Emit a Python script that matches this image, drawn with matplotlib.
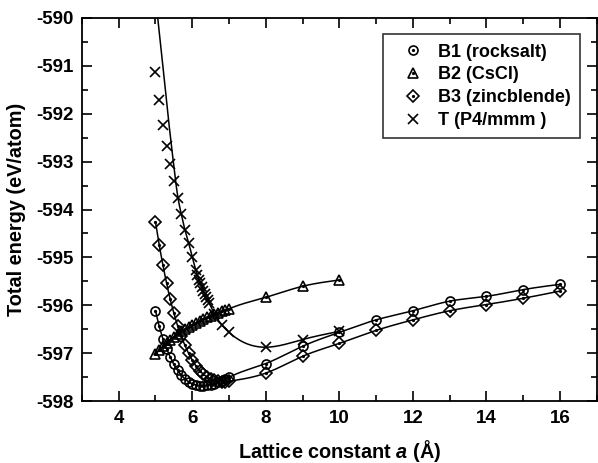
import numpy as np
import matplotlib
matplotlib.use("Agg")
import matplotlib.pyplot as plt
from matplotlib.lines import Line2D
from matplotlib.ticker import MultipleLocator, FormatStrFormatter

plt.rcParams['font.family'] = ['Liberation Sans', 'DejaVu Sans']
plt.rcParams['font.weight'] = 'bold'
plt.rcParams['axes.unicode_minus'] = False
plt.rcParams['mathtext.fontset'] = 'custom'
plt.rcParams['mathtext.it'] = 'Liberation Sans:italic:bold'
plt.rcParams['mathtext.rm'] = 'Liberation Sans:bold'

# donnees (a en Angstrom, E en eV/atome)
a_fin = [5.0, 5.1, 5.2, 5.3, 5.4, 5.5, 5.6, 5.7, 5.8, 5.9, 6.0,
         6.1, 6.2, 6.3, 6.4, 6.5, 6.6, 6.7, 6.8, 6.9, 7.0]

b1_x = a_fin + [8, 9, 10, 11, 12, 13, 14, 15, 16]
b1_y = [-596.11, -596.43, -596.69, -596.90, -597.07, -597.23, -597.35, -597.45,
        -597.53, -597.59, -597.63, -597.66, -597.67, -597.67, -597.66, -597.65,
        -597.63, -597.60, -597.57, -597.54, -597.50,
        -597.21, -596.85, -596.56, -596.30, -596.11, -595.91, -595.81, -595.67, -595.56]

b2_x = a_fin + [8, 9, 10]
b2_y = [-597.02, -596.93, -596.85, -596.78, -596.71, -596.65, -596.59, -596.54,
        -596.49, -596.45, -596.40, -596.36, -596.32, -596.28, -596.25, -596.21,
        -596.18, -596.15, -596.12, -596.10, -596.07,
        -595.83, -595.60, -595.47]

b3_x = a_fin + [8, 9, 10, 11, 12, 13, 14, 15, 16]
b3_y = [-594.26, -594.73, -595.15, -595.53, -595.87, -596.16, -596.42, -596.64,
        -596.83, -597.00, -597.14, -597.26, -597.36, -597.43, -597.49, -597.53,
        -597.56, -597.58, -597.59, -597.59, -597.58,
        -597.41, -597.06, -596.79, -596.52, -596.30, -596.11, -595.98, -595.85, -595.70]

t_x = [5.0, 5.1, 5.2, 5.3, 5.4, 5.5, 5.6, 5.7, 5.8, 5.9, 6.0,
       6.1, 6.14, 6.18, 6.22, 6.26, 6.30, 6.34, 6.38, 6.42, 6.46,
       6.6, 6.8, 7.0, 8, 9, 10]
t_y = [-591.13, -591.72, -592.24, -592.68, -593.06, -593.41, -593.75, -594.09,
       -594.42, -594.69, -594.99, -595.27, -595.37, -595.46, -595.54, -595.62,
       -595.69, -595.76, -595.83, -595.89, -595.95,
       -596.17, -596.40, -596.56, -596.87, -596.71, -596.54]

# courbe d'ajustement de T en haut (elle ne passe pas par les premiers points)
t_fit_x = [5.06, 5.2, 5.35, 5.5, 5.6]
t_fit_y = [-590.0, -591.0, -592.1, -593.1, -593.7]

noms = ['B1 (rocksalt)', 'B2 (CsCl)', 'B3 (zincblende)', 'T (P4/mmm )']


def spline(x, y, n=500):
    # spline cubique naturelle, juste pour tracer une courbe lisse
    x = np.asarray(x, float)
    y = np.asarray(y, float)
    h = np.diff(x)
    m = len(x)
    A = np.zeros((m, m))
    r = np.zeros(m)
    A[0, 0] = 1
    A[-1, -1] = 1
    for i in range(1, m - 1):
        A[i, i - 1] = h[i - 1]
        A[i, i] = 2 * (h[i - 1] + h[i])
        A[i, i + 1] = h[i]
        r[i] = 6 * ((y[i + 1] - y[i]) / h[i] - (y[i] - y[i - 1]) / h[i - 1])
    M = np.linalg.solve(A, r)
    xs = np.linspace(x[0], x[-1], n)
    k = np.clip(np.searchsorted(x, xs) - 1, 0, m - 2)
    t1 = x[k + 1] - xs
    t2 = xs - x[k]
    hk = h[k]
    ys = (M[k] * t1**3 + M[k + 1] * t2**3) / (6 * hk) \
        + (y[k] / hk - M[k] * hk / 6) * t1 + (y[k + 1] / hk - M[k + 1] * hk / 6) * t2
    return xs, ys


fig = plt.figure(figsize=(5.98, 4.63), dpi=100)
ax = fig.add_axes([0.137, 0.133, 0.861, 0.829])

lw = 1.1
for xx, yy in [(b1_x, b1_y), (b2_x, b2_y), (b3_x, b3_y)]:
    sx, sy = spline(xx, yy)
    ax.plot(sx, sy, color='k', lw=lw, zorder=2)

tl_x = t_fit_x + [v for v in t_x if v >= 5.7]
tl_y = t_fit_y + [t_y[i] for i in range(len(t_x)) if t_x[i] >= 5.7]
sx, sy = spline(tl_x, tl_y)
ax.plot(sx, sy, color='k', lw=lw, zorder=2)

styles = [('o', 6.5), ('^', 6.5), ('D', 6.0), ('x', 6.5)]
donnees = [(b1_x, b1_y), (b2_x, b2_y), (b3_x, b3_y), (t_x, t_y)]
handles = []
for (mk, ms), (xx, yy) in zip(styles, donnees):
    ax.plot(xx, yy, ls='none', marker=mk, ms=ms, mfc='none', mec='k', mew=1.2, zorder=3)
    if mk != 'x':
        ax.plot(xx, yy, ls='none', marker='o', ms=1.3, mfc='k', mec='k', zorder=3)
        h = (Line2D([], [], ls='none', marker=mk, ms=ms, mfc='none', mec='k', mew=1.2),
             Line2D([], [], ls='none', marker='o', ms=1.3, mfc='k', mec='k'))
    else:
        h = Line2D([], [], ls='none', marker=mk, ms=ms, mfc='none', mec='k', mew=1.2)
    handles.append(h)

ax.set_xlim(3, 17)
ax.set_ylim(-598, -590)
ax.xaxis.set_major_locator(MultipleLocator(2))
ax.xaxis.set_minor_locator(MultipleLocator(1))
ax.yaxis.set_major_locator(MultipleLocator(1))
ax.yaxis.set_minor_locator(MultipleLocator(0.5))
ax.yaxis.set_major_formatter(FormatStrFormatter('%d'))
ax.tick_params(which='both', direction='in', top=True, right=True, width=1.2, labelsize=13.5)
ax.tick_params(which='major', length=7, pad=6)
ax.tick_params(which='minor', length=4.5)
for s in ax.spines.values():
    s.set_linewidth(1.3)

ax.set_xlabel('Lattice constant $a$ (Å)', fontsize=14.3, fontweight='bold', labelpad=8)
ax.set_ylabel('Total energy (eV/atom)', fontsize=14.3, fontweight='bold', labelpad=7)

leg = ax.legend(handles, noms, loc='upper right', bbox_to_anchor=(0.967, 0.956),
                borderaxespad=0, fontsize=13, frameon=True, fancybox=False, edgecolor='k',
                handlelength=2.33, handletextpad=0.22, labelspacing=0.33, borderpad=0.5)
leg.get_frame().set_linewidth(1.2)

fig.savefig('out.png', dpi=100)
